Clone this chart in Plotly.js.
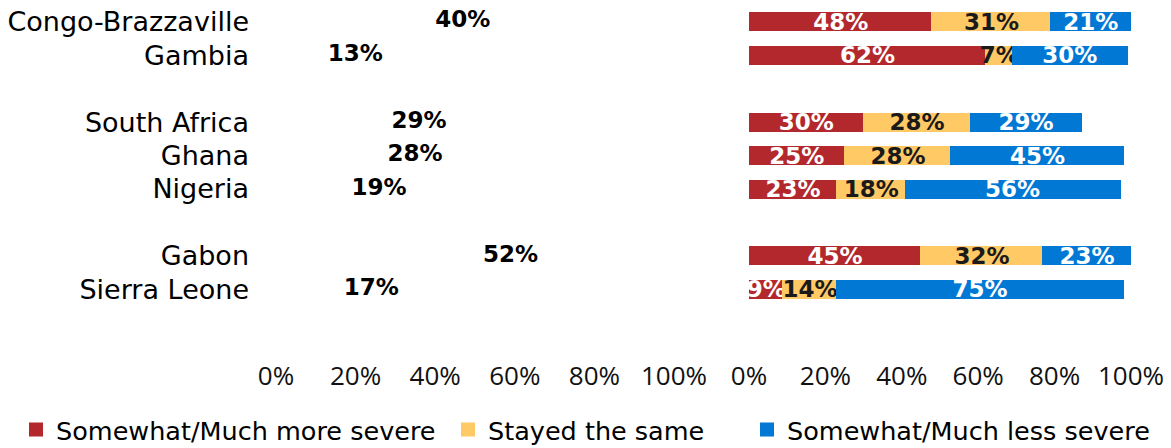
<!DOCTYPE html>
<html><head><meta charset="utf-8">
<script src="https://cdn.plot.ly/plotly-3.0.1.min.js"></script>
<style>html,body{margin:0;padding:0;background:#fff}#chart{width:1171px;height:448px}</style>
</head><body><div id="chart"></div>
<script>
const countries = ['Congo-Brazzaville','Gambia','South Africa','Ghana','Nigeria','Gabon','Sierra Leone'];
const rowOrder = ['Congo-Brazzaville','Gambia',' ','South Africa','Ghana','Nigeria','  ','Gabon','Sierra Leone'];
const leftValues = [40,13,29,28,19,52,17];
const moreSevere = [48,62,30,25,23,45,9];
const stayedSame = [31,7,28,28,18,32,14];
const lessSevere = [21,30,29,45,56,23,75];
const seriesNames = ['Somewhat/Much more severe','Stayed the same','Somewhat/Much less severe'];
const seriesColors = ['#B2282D','#FFC966','#0078D4'];
const labelColors = ['#ffffff','#1a1a1a','#ffffff'];
const tickValues = [0,20,40,60,80,100];
const tickLabels = ['0%','20%','40%','60%','80%','100%'];

const W = 1171, H = 448;
const pct = v => v + '%';
const labelFont = {family:'DejaVu Sans', size:23, weight:'bold'};

const traces = [{
  type:'scatter', mode:'text', x:leftValues, y:countries, xaxis:'x', yaxis:'y',
  text:leftValues.map(pct), textposition:'middle right',
  textfont:Object.assign({}, labelFont, {color:'#000'}),
  showlegend:false, hoverinfo:'skip', cliponaxis:false
}];
const seriesData = [moreSevere, stayedSame, lessSevere];
const legendIds = ['legend','legend2','legend3'];
seriesData.forEach((vals, i) => {
  traces.push({
    type:'bar', orientation:'h', x:vals, y:countries, xaxis:'x2', yaxis:'y',
    name:seriesNames[i], marker:{color:seriesColors[i], line:{color:seriesColors[i], width:2}},
    text:vals.map(pct), textposition:'inside', insidetextanchor:'middle',
    textangle:0, constraintext:'none',
    insidetextfont:Object.assign({}, labelFont, {color:labelColors[i]}),
    legend:legendIds[i], cliponaxis:false, hoverinfo:'x+name'
  });
});

const xCommon = {
  range:[0,100], tickvals:tickValues, ticktext:tickLabels, showgrid:false, zeroline:false,
  showline:false, ticks:'', fixedrange:true, ticklabelstandoff:0,
  tickfont:{family:'Open Sans', size:26, color:'#111'}, anchor:'y'
};
const legendCommon = {orientation:'h', yanchor:'middle', xanchor:'left', bgcolor:'rgba(0,0,0,0)',
  borderwidth:0, font:{family:'DejaVu Sans', size:25.5, color:'#000'}, y:1-430/H};

const layout = {
  width:W, height:H, margin:{l:0,r:0,t:0,b:0,autoexpand:false}, paper_bgcolor:'#fff', plot_bgcolor:'rgba(0,0,0,0)',
  barmode:'stack', bargap:0.49,
  xaxis:Object.assign({}, xCommon, {domain:[276/W, 674/W]}),
  xaxis2:Object.assign({}, xCommon, {domain:[749/W, 1131/W]}),
  yaxis:{type:'category', categoryorder:'array', categoryarray:rowOrder, range:[10.05,-0.5],
    domain:[1-358/H, 1-5/H], anchor:'x', ticks:'', showgrid:false, zeroline:false, showline:false,
    ticklabelstandoff:26, tickfont:{family:'DejaVu Sans', size:27, color:'#000'}, fixedrange:true},
  legend:Object.assign({}, legendCommon, {x:16/W}),
  legend2:Object.assign({}, legendCommon, {x:448/W}),
  legend3:Object.assign({}, legendCommon, {x:747/W}),
  showlegend:true
};
Plotly.newPlot('chart', traces, layout, {displayModeBar:false, staticPlot:true});
</script></body></html>
